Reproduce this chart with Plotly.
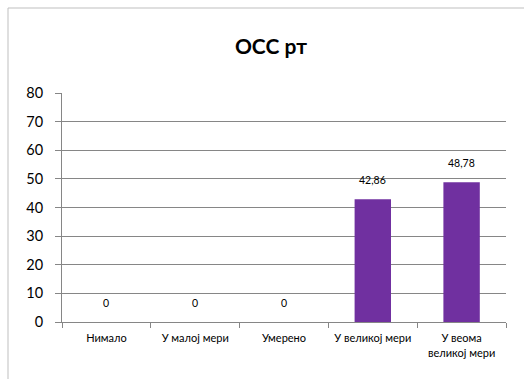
import plotly.graph_objects as go

categories = ["Нимало", "У малој мери", "Умерено", "У великој мери", "У веома<br>великој мери"]
values = [0, 0, 0, 42.86, 48.78]
y_ticks = [0, 10, 20, 30, 40, 50, 60, 70, 80]
title_text = "<b>ОСС рт</b>"

labels = [f"{v:g}".replace(".", ",") if v != int(v) else str(int(v)) for v in values]

fig = go.Figure()
fig.add_trace(go.Bar(
    x=categories, y=values,
    marker=dict(color="#7030A0", line=dict(width=0)),
    width=0.41,
    hoverinfo="skip",
))

for c, v, t in zip(categories, values, labels):
    fig.add_annotation(x=c, y=v, text=t, showarrow=False, yanchor="middle",
                       yshift=19, font=dict(family="Lato", size=10.5, color="#000000"))

# chart-area border
fig.add_shape(type="rect", xref="paper", yref="paper",
              x0=(8 - 62) / 444, x1=1.2, y0=-0.5, y1=(322 - 8) / 229,
              line=dict(color="#BFBFBF", width=1), fillcolor="rgba(0,0,0,0)", layer="below")

fig.update_layout(
    width=524, height=379,
    margin=dict(l=62, r=18, t=93, b=57),
    paper_bgcolor="white", plot_bgcolor="white",
    showlegend=False,
    title=dict(text=title_text, x=0.517, xanchor="center", y=1 - 47 / 379, yanchor="middle",
               font=dict(family="Lato", size=21, color="#000000")),
    font=dict(family="Lato", color="#000000"),
)
fig.update_yaxes(
    range=[0, 80], tickvals=y_ticks, ticktext=[str(v) for v in y_ticks],
    showgrid=True, gridcolor="#868686", gridwidth=1,
    showline=True, linecolor="#868686", linewidth=1,
    ticks="outside", ticklen=6, tickcolor="#868686", ticklabelstandoff=9,
    tickfont=dict(family="Lato", size=14.5, color="#000000"),
    zeroline=False, fixedrange=True,
)
fig.update_xaxes(
    showline=True, linecolor="#868686", linewidth=1,
    ticks="outside", ticklen=5, tickcolor="#868686", tickson="boundaries",
    ticklabelstandoff=6,
    tickfont=dict(family="Lato", size=11, color="#000000"),
    showgrid=False, fixedrange=True,
)

fig.write_html("out.html", config={"displayModeBar": False},
               post_script="document.body.style.margin='0';document.body.style.overflow='hidden';")
